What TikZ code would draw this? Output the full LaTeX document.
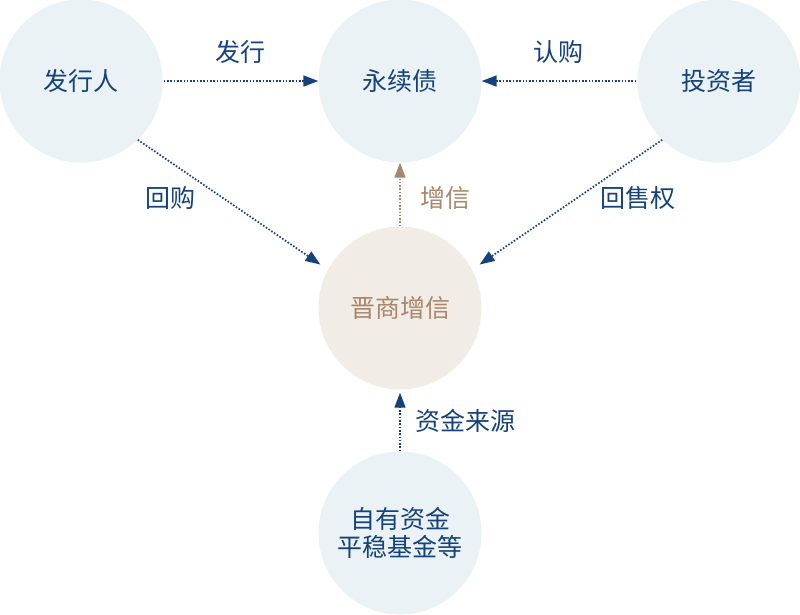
\documentclass[tikz,border=0pt]{standalone}
\usepackage{fontspec}
\setmainfont{Noto Sans CJK SC}
\usetikzlibrary{arrows.meta}
\definecolor{dblue}{HTML}{15427A}
\definecolor{cblue}{HTML}{EAF2F6}
\definecolor{cbrown}{HTML}{F2ECE7}
\definecolor{tbrown}{HTML}{A8866A}
\begin{document}
\begin{tikzpicture}[x=1pt,y=-1pt,
  circ/.style={circle,minimum size=163pt,inner sep=0pt,fill=cblue,text=dblue,font=\fontsize{25}{28}\selectfont,align=center},
  bcirc/.style={circ,fill=cbrown,text=tbrown},
  conn/.style={draw=dblue,line width=1.7pt,dash pattern=on 1.6pt off 1.7pt,-{Triangle[length=15pt,width=11pt,fill=dblue]}},
  bconn/.style={conn,draw=tbrown,-{Triangle[length=15pt,width=11pt,fill=tbrown]}},
  lab/.style={text=dblue,font=\fontsize{25}{28}\selectfont,inner sep=0pt},
  blab/.style={lab,text=tbrown}]
\useasboundingbox (0,0) rectangle (800,614);
\node[circ] (fx) at (81,81) {发行人};
\node[circ] (yx) at (400,81) {永续债};
\node[circ] (tz) at (719,81) {投资者};
\node[bcirc] (jx) at (400,308) {晋商增信};
\node[circ] (zy) at (400,533) {自有资金\\平稳基金等};
\draw[conn,shorten <=1pt] (fx.east) -- (yx.west);
\draw[conn,shorten <=1pt] (tz.west) -- (yx.east);
\draw[conn,shorten >=9pt] (fx.-46) -- (jx.152);
\draw[conn,shorten >=9pt] (tz.-134) -- (jx.28);
\draw[bconn] (jx.north) -- (yx.south);
\draw[conn,shorten >=3pt] (zy.north) -- (jx.south);
\node[lab] (l1) at (240,52) {发行};
\node[lab] (l2) at (558,52) {认购};
\node[lab] (l3) at (170,198) {回购};
\node[blab] (l4) at (445,198) {增信};
\node[lab] (l5) at (638,198) {回售权};
\node[lab] (l6) at (465,421) {资金来源};
\end{tikzpicture}
\end{document}
